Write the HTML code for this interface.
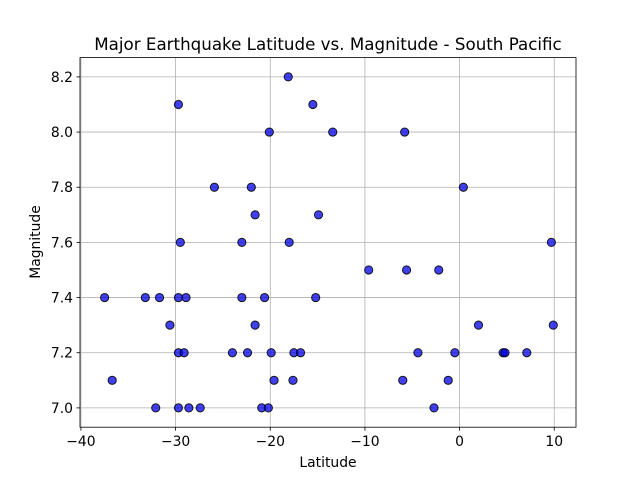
<!DOCTYPE html>
<html><head><meta charset="utf-8"><style>
body{margin:0;background:#fff;font-family:"Liberation Sans","DejaVu Sans",sans-serif;}
svg text{font-family:"DejaVu Sans","Liberation Sans",sans-serif;fill:#000;}
</style></head><body>
<svg id="chart" width="640" height="480" xmlns="http://www.w3.org/2000/svg">
<rect width="640" height="480" fill="#fff"/>
<text x="328" y="50" font-size="16.7" text-anchor="middle">Major Earthquake Latitude vs. Magnitude - South Pacific</text>
<g id="grid"></g><g id="marks"></g><g id="axes"></g>
<text x="328" y="467" font-size="13.9" text-anchor="middle">Latitude</text>
<text transform="translate(40,242) rotate(-90)" font-size="13.9" text-anchor="middle">Magnitude</text>
</svg>
<script>
const latitudes=[-37.5,-36.7,-33.2,-32.1,-31.7,-30.6,-29.7,-29.5,-29.7,-29.7,-29.7,-29.1,-28.9,-28.6,-27.4,-25.9,-24.0,-23.0,-23.0,-22.4,-22.0,-21.6,-21.6,-20.9,-20.6,-20.2,-20.1,-19.9,-19.6,-18.1,-18.0,-17.6,-17.5,-16.8,-15.5,-15.2,-14.9,-13.4,-9.6,-6.0,-5.8,-5.6,-4.4,-2.7,-2.2,-1.2,-0.5,0.4,2.0,4.6,4.8,7.1,9.7,9.9];
const magnitudes=[7.4,7.1,7.4,7.0,7.4,7.3,8.1,7.6,7.4,7.2,7.0,7.2,7.4,7.0,7.0,7.8,7.2,7.6,7.4,7.2,7.8,7.7,7.3,7.0,7.4,7.0,8.0,7.2,7.1,8.2,7.6,7.1,7.2,7.2,8.1,7.4,7.7,8.0,7.5,7.1,8.0,7.5,7.2,7.0,7.5,7.1,7.2,7.8,7.3,7.2,7.2,7.2,7.6,7.3];
const xTicks=[-40,-30,-20,-10,0,10];
const yTicks=[7.0,7.2,7.4,7.6,7.8,8.0,8.2];
const L=80,R=576,T=57.6,B=427.2;
const xMin=-40.1,xMax=12.3,yMin=6.93,yMax=8.27;
const sx=v=>L+(v-xMin)/(xMax-xMin)*(R-L);
const sy=v=>B-(v-yMin)/(yMax-yMin)*(B-T);
const NS="http://www.w3.org/2000/svg";
function mk(tag,parent,attrs){const e=document.createElementNS(NS,tag);for(const k in attrs)e.setAttribute(k,attrs[k]);parent.appendChild(e);return e;}
const grid=document.getElementById('grid'),marks=document.getElementById('marks'),axes=document.getElementById('axes');
xTicks.forEach(t=>{const x=sx(t);
 const g=mk('line',grid,{x1:x,x2:x,y1:T,y2:B,stroke:'#b0b0b0','stroke-width':0.8});
 
 
 mk('line',axes,{x1:x,x2:x,y1:B,y2:B+3.5,stroke:'#000','stroke-width':0.8});
 const tx=mk('text',axes,{x:x,y:B+19,'font-size':13.9,'text-anchor':'middle'});
 tx.textContent=t<0?'\u2212'+Math.abs(t):t;
 
 });
yTicks.forEach(t=>{const y=sy(t);
 const g=mk('line',grid,{x1:L,x2:R,y1:y,y2:y,stroke:'#b0b0b0','stroke-width':0.8});
 
 
 mk('line',axes,{x1:L-3.5,x2:L,y1:y,y2:y,stroke:'#000','stroke-width':0.8});
 const tx=mk('text',axes,{x:L-7,y:y+5,'font-size':13.9,'text-anchor':'end'});
 tx.textContent=t.toFixed(1);
 
 });
const frame=mk('rect',axes,{x:L,y:T,width:R-L,height:B-T,fill:'none',stroke:'#000','stroke-width':0.8});


latitudes.forEach((v,i)=>{
 const c=mk('circle',marks,{cx:sx(v),cy:sy(magnitudes[i]),r:4.1,fill:'rgba(0,0,230,0.75)',stroke:'rgba(0,0,0,0.85)','stroke-width':1});
 
 });
</script>
</body></html>
